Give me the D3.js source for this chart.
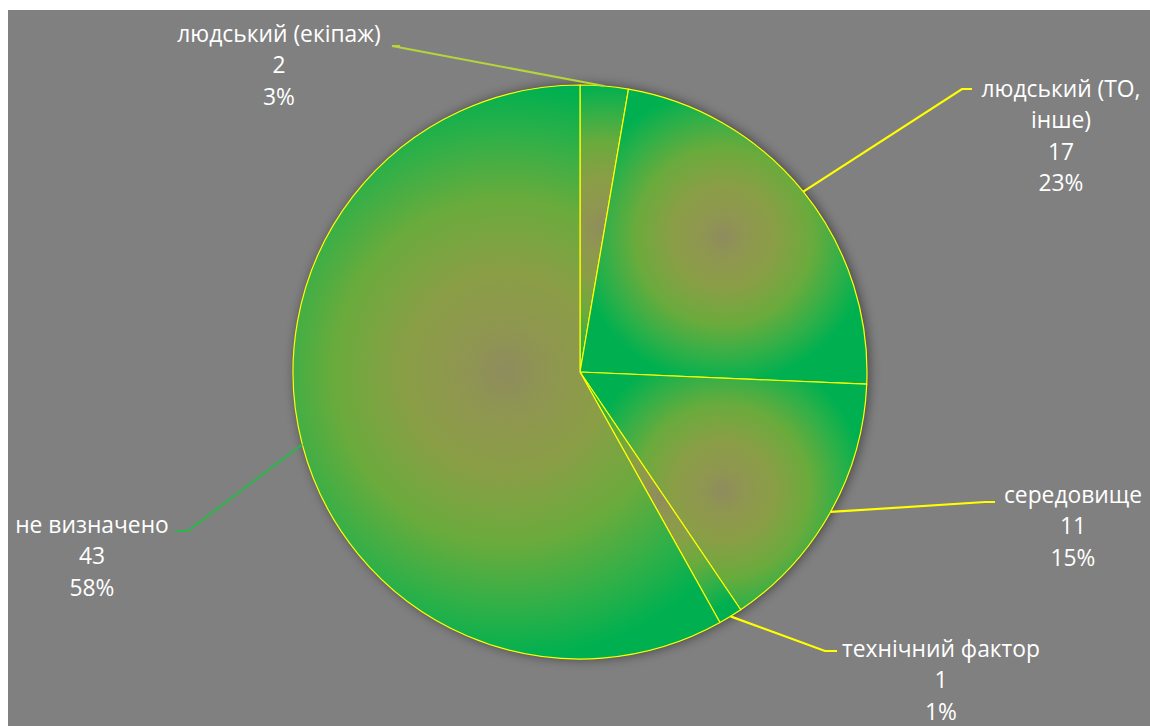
<!DOCTYPE html>
<html><head><meta charset="utf-8">
<script src="https://cdn.jsdelivr.net/npm/d3@7"></script>
<style>html,body{margin:0;padding:0;background:#fff;}svg{display:block;}</style>
</head><body>
<svg id="chart" width="1150" height="726"></svg>
<script>
const categories = ["людський (екіпаж)", "людський (ТО, інше)", "середовище", "технічний фактор", "не визначено"];
const labelLines = [["людський (екіпаж)"], ["людський (ТО,", "інше)"], ["середовище"], ["технічний фактор"], ["не визначено"]];
const values = [2, 17, 11, 1, 43];
const leaderColors = ["#b5d53a", "#ffff00", "#ffff00", "#ffff00", "#2fb34c"];
// label anchor (text block center x, first line y) and leader elbow
const labelPos = [
  {x: 279, y: 34, ex: 392, ey: 46, hx: 400},
  {x: 1061, y: 89, ex: 962, ey: 89, hx: 972},
  {x: 1073, y: 495, ex: 985, ey: 502, hx: 995},
  {x: 941, y: 649, ex: 825, ey: 651, hx: 837},
  {x: 92, y: 525, ex: 188, ey: 531, hx: 175}
];

const svg = d3.select("#chart");
svg.append("rect").attr("x", 8).attr("y", 10).attr("width", 1142).attr("height", 716).attr("fill", "#808080");

const cx = 580, cy = 372, R = 287;
const total = d3.sum(values);
const pie = d3.pie().sort(null).value(d => d)(values);
const arc = d3.arc().innerRadius(0).outerRadius(R);

const defs = svg.append("defs");
const f = defs.append("filter").attr("id", "sh").attr("x", "-20%").attr("y", "-20%").attr("width", "140%").attr("height", "140%");
f.append("feGaussianBlur").attr("in", "SourceAlpha").attr("stdDeviation", 6).attr("result", "b");
f.append("feOffset").attr("in", "b").attr("dx", 2).attr("dy", 0).attr("result", "o");
f.append("feComponentTransfer").attr("in", "o").attr("result", "o2").append("feFuncA").attr("type", "linear").attr("slope", 0.5);
const m = f.append("feMerge");
m.append("feMergeNode").attr("in", "o2");
m.append("feMergeNode").attr("in", "SourceGraphic");

const g = svg.append("g").attr("transform", `translate(${cx},${cy})`);
g.append("circle").attr("r", R).attr("fill", "#00b050").attr("filter", "url(#sh)");

const paths = g.selectAll("path.slice").data(pie).join("path")
  .attr("class", "slice")
  .attr("d", arc)
  .attr("stroke", "#ffff00").attr("stroke-width", 1.2).attr("stroke-linejoin", "round");

paths.each(function(d, i) {
  const bb = this.getBBox();
  const gc = bb.x + bb.width / 2, gcy = bb.y + bb.height / 2;
  const r = Math.max(bb.width, bb.height) / 2;
  const gr = defs.append("radialGradient").attr("id", "gr" + i)
    .attr("gradientUnits", "userSpaceOnUse")
    .attr("cx", gc).attr("cy", gcy).attr("r", r).attr("fx", gc).attr("fy", gcy);
  gr.append("stop").attr("offset", 0).attr("stop-color", "#8e8c5e");
  gr.append("stop").attr("offset", 0.15).attr("stop-color", "#8f9650");
  gr.append("stop").attr("offset", 0.35).attr("stop-color", "#8a9e46");
  gr.append("stop").attr("offset", 0.6).attr("stop-color", "#6aab3c");
  gr.append("stop").attr("offset", 0.82).attr("stop-color", "#30b048");
  gr.append("stop").attr("offset", 1).attr("stop-color", "#00b050");
  d3.select(this).attr("fill", `url(#gr${i})`);
});

// leader lines
pie.forEach((d, i) => {
  const a = (d.startAngle + d.endAngle) / 2;
  const p0 = [cx + R * Math.sin(a), cy - R * Math.cos(a)];
  const L = labelPos[i];
  svg.append("polyline")
    .attr("points", [p0, [L.ex, L.ey], [L.hx, L.ey]].map(p => p.join(",")).join(" "))
    .attr("fill", "none").attr("stroke", leaderColors[i]).attr("stroke-width", 2.2);
});

// labels
const fmtPct = v => Math.round(v / total * 100) + "%";
pie.forEach((d, i) => {
  const L = labelPos[i];
  const lines = labelLines[i].concat([String(values[i]), fmtPct(values[i])]);
  const t = svg.append("text").attr("text-anchor", "middle")
    .attr("font-family", "'Open Sans', sans-serif").attr("font-size", 22.8).attr("fill", "#ffffff");
  lines.forEach((s, k) => {
    t.append("tspan").attr("x", L.x).attr("y", L.y + k * 31.5).attr("dy", "0.35em").text(s);
  });
});
</script>
</body></html>
